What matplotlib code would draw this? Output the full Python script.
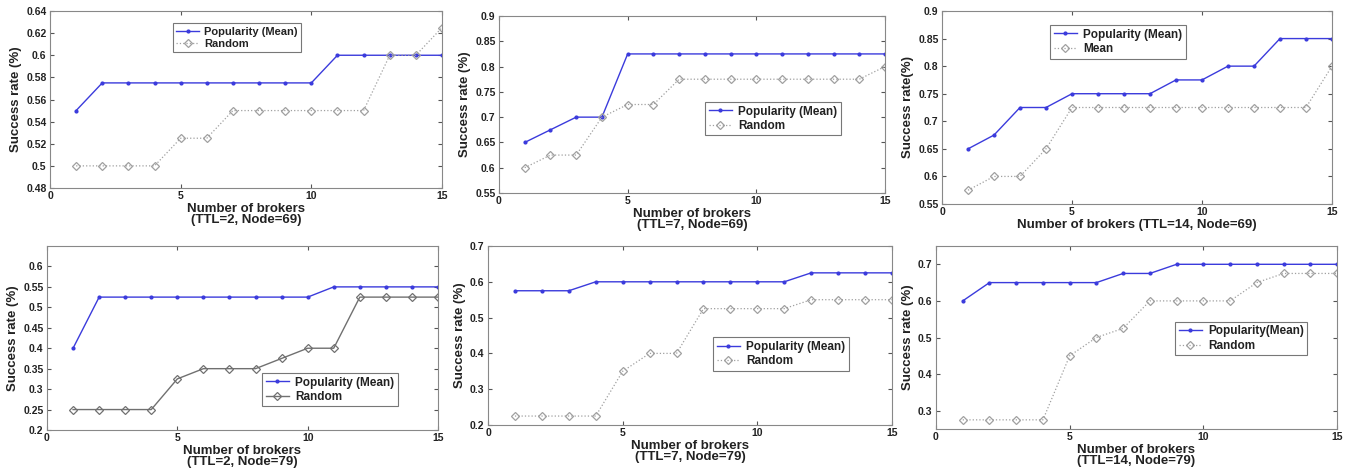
import matplotlib
matplotlib.use("Agg")
import matplotlib.pyplot as plt
from matplotlib.ticker import FuncFormatter

plt.rcParams["font.family"] = ["Liberation Sans", "DejaVu Sans"]
plt.rcParams["font.weight"] = "bold"

brokers = list(range(1, 16))

# top row: Node=69
pop_ttl2_n69 = [0.55] + [0.575] * 9 + [0.6] * 5
rnd_ttl2_n69 = [0.5, 0.5, 0.5, 0.5, 0.525, 0.525, 0.55, 0.55, 0.55, 0.55, 0.55, 0.55, 0.6, 0.6, 0.625]
pop_ttl7_n69 = [0.65, 0.675, 0.7, 0.7] + [0.825] * 11
rnd_ttl7_n69 = [0.6, 0.625, 0.625, 0.7, 0.725, 0.725] + [0.775] * 8 + [0.8]
pop_ttl14_n69 = [0.65, 0.675, 0.725, 0.725, 0.75, 0.75, 0.75, 0.75, 0.775, 0.775, 0.8, 0.8, 0.85, 0.85, 0.85]
rnd_ttl14_n69 = [0.575, 0.6, 0.6, 0.65] + [0.725] * 10 + [0.8]

# bottom row: Node=79
pop_ttl2_n79 = [0.4] + [0.525] * 9 + [0.55] * 5
rnd_ttl2_n79 = [0.25, 0.25, 0.25, 0.25, 0.325, 0.35, 0.35, 0.35, 0.375, 0.4, 0.4, 0.525, 0.525, 0.525, 0.525]
pop_ttl7_n79 = [0.575] * 3 + [0.6] * 8 + [0.625] * 4
rnd_ttl7_n79 = [0.225] * 4 + [0.35, 0.4, 0.4] + [0.525] * 4 + [0.55] * 4
pop_ttl14_n79 = [0.6] + [0.65] * 5 + [0.675, 0.675] + [0.7] * 7
rnd_ttl14_n79 = [0.275] * 4 + [0.45, 0.5, 0.525, 0.6, 0.6, 0.6, 0.6, 0.65, 0.675, 0.675, 0.675]

W, H = 1354, 474
fig = plt.figure(figsize=(W / 100, H / 100), dpi=100)


def make_ax(l, r, t, b):
    return fig.add_axes([l / W, 1 - b / H, (r - l) / W, (b - t) / H])


def style(ax, ylim, yticks, xlabel, ylabel, leg_xy, labels, leg_fs=8.5):
    ax.set_xlim(0, 15)
    ax.set_ylim(*ylim)
    ax.set_xticks([0, 5, 10, 15])
    ax.set_yticks(yticks)
    ax.yaxis.set_major_formatter(FuncFormatter(lambda v, p: f"{round(v, 3):g}"))
    ax.tick_params(direction="in", top=True, right=True, labelsize=7.5, length=3,
                   color="#555555", labelcolor="#222222", pad=2.5)
    for s in ax.spines.values():
        s.set_color("#888888")
        s.set_linewidth(0.8)
    ax.set_xlabel(xlabel, fontsize=9.5, fontweight="bold", color="#222222", labelpad=1,
                  linespacing=0.95)
    ax.set_ylabel(ylabel, fontsize=9.5, fontweight="bold", color="#222222", labelpad=3)
    leg = ax.legend(labels, loc="upper left", bbox_to_anchor=leg_xy, fontsize=leg_fs,
                    frameon=True, fancybox=False, handlelength=2.0, borderpad=0.3,
                    labelspacing=0.2, handletextpad=0.5, borderaxespad=0)
    leg.get_frame().set_edgecolor("#555555")
    leg.get_frame().set_linewidth(0.8)
    for t in leg.get_texts():
        t.set_fontweight("bold")
        t.set_color("#222222")


def draw(ax, pop, rnd, rnd_solid=False):
    ax.plot(brokers, pop, color="#3b3bdc", lw=1.0, marker=".", ms=4)
    if rnd_solid:
        ax.plot(brokers, rnd, color="#707070", lw=1.0, ls="-", marker="D", ms=4.3,
                mfc="none", mec="#707070", mew=0.9)
    else:
        ax.plot(brokers, rnd, color="#a0a0a0", lw=0.9, ls=":", marker="D", ms=4.3,
                mfc="none", mec="#a0a0a0", mew=0.9)


ylab = "Success rate (%)"

ax1 = make_ax(50, 442, 11, 188)
draw(ax1, pop_ttl2_n69, rnd_ttl2_n69)
style(ax1, (0.48, 0.64), [0.48, 0.5, 0.52, 0.54, 0.56, 0.58, 0.6, 0.62, 0.64],
      "Number of brokers\n(TTL=2, Node=69)", ylab, (0.314, 0.93),
      ["Popularity (Mean)", "Random"], leg_fs=8)

ax2 = make_ax(499, 885, 16, 193)
draw(ax2, pop_ttl7_n69, rnd_ttl7_n69)
style(ax2, (0.55, 0.9), [0.55, 0.6, 0.65, 0.7, 0.75, 0.8, 0.85, 0.9],
      "Number of brokers\n(TTL=7, Node=69)", ylab, (0.534, 0.514),
      ["Popularity (Mean)", "Random"])

ax3 = make_ax(942, 1332, 11, 204)
draw(ax3, pop_ttl14_n69, rnd_ttl14_n69)
style(ax3, (0.55, 0.9), [0.55, 0.6, 0.65, 0.7, 0.75, 0.8, 0.85, 0.9],
      "Number of brokers (TTL=14, Node=69)", "Success rate(%)", (0.277, 0.927),
      ["Popularity (Mean)", "Mean"])

ax4 = make_ax(47, 438, 246, 430)
draw(ax4, pop_ttl2_n79, rnd_ttl2_n79, rnd_solid=True)
style(ax4, (0.2, 0.65), [0.2, 0.25, 0.3, 0.35, 0.4, 0.45, 0.5, 0.55, 0.6],
      "Number of brokers\n(TTL=2, Node=79)", ylab, (0.55, 0.31),
      ["Popularity (Mean)", "Random"])

ax5 = make_ax(488, 892, 246, 425)
draw(ax5, pop_ttl7_n79, rnd_ttl7_n79)
style(ax5, (0.2, 0.7), [0.2, 0.3, 0.4, 0.5, 0.6, 0.7],
      "Number of brokers\n(TTL=7, Node=79)", ylab, (0.557, 0.49),
      ["Popularity (Mean)", "Random"])

ax6 = make_ax(936, 1337, 246, 429)
draw(ax6, pop_ttl14_n79, rnd_ttl14_n79)
style(ax6, (0.25, 0.75), [0.3, 0.4, 0.5, 0.6, 0.7],
      "Number of brokers\n(TTL=14, Node=79)", ylab, (0.596, 0.585),
      ["Popularity(Mean)", "Random"])

fig.savefig("out.png", dpi=100)
